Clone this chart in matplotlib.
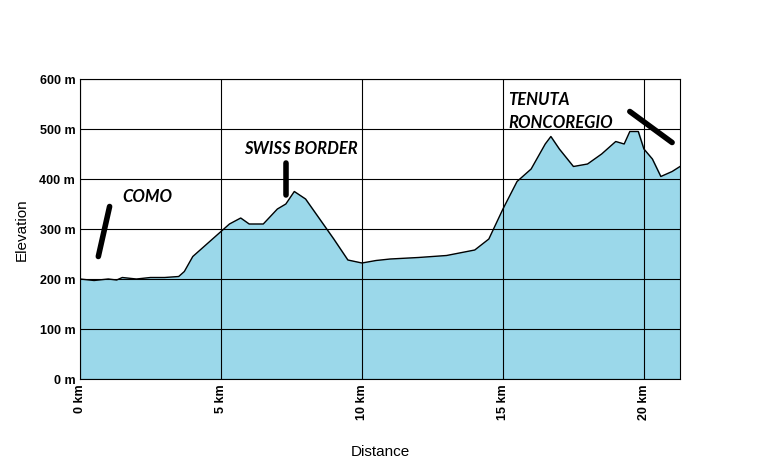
import matplotlib.pyplot as plt

km = [0, 0.5, 1, 1.3, 1.5, 2, 2.5, 3, 3.5, 3.7, 4, 4.5, 5, 5.3, 5.7, 6, 6.5, 7, 7.3, 7.6,
      8, 8.5, 9, 9.5, 10, 10.5, 11, 12, 13, 14, 14.5, 15, 15.5, 16, 16.5, 16.7, 17, 17.5,
      18, 18.5, 19, 19.3, 19.5, 19.8, 20, 20.3, 20.6, 21, 21.28]
elev = [200, 197, 200, 198, 203, 200, 203, 203, 205, 215, 245, 270, 295, 310, 322, 310, 310, 340, 350, 375,
        360, 320, 280, 238, 232, 237, 240, 243, 247, 258, 280, 340, 395, 420, 470, 485, 460, 425,
        430, 450, 475, 470, 495, 495, 460, 440, 405, 415, 425]

fig = plt.figure(figsize=(7.6, 4.6), dpi=100)
ax = fig.add_axes([80/760, 1-380/460, 600/760, 300/460])
ax.fill_between(km, elev, 0, color="#9bd8ea", zorder=1)
ax.plot(km, elev, color="black", lw=1, zorder=3)
ax.set_xlim(0, 21.28)
ax.set_ylim(0, 600)
ax.set_xticks([0, 5, 10, 15, 20])
ax.set_xticklabels([f"{v} km" for v in [0, 5, 10, 15, 20]], rotation=90,
                   fontweight="bold", fontsize=9, family="Liberation Sans")
ax.set_yticks(range(0, 601, 100))
ax.set_yticklabels([f"{v} m" for v in range(0, 601, 100)], fontweight="bold",
                   fontsize=9, family="Liberation Sans")
ax.tick_params(length=0)
ax.grid(True, color="black", lw=0.8, zorder=2)
ax.set_axisbelow(False)
for s in ax.spines.values():
    s.set_linewidth(0.8)
ax.set_xlabel("Distance", fontsize=11, labelpad=18, family="Liberation Sans")
ax.set_ylabel("Elevation", fontsize=11, labelpad=8, family="Liberation Sans")

tkw = dict(fontsize=12, fontweight="bold", style="italic", family="Lato", zorder=5)
ax.text(1.5, 355, "COMO", **tkw)
ax.plot([0.65, 1.05], [245, 345], color="black", lw=4, solid_capstyle="round", zorder=5)
ax.text(5.8, 453, "SWISS BORDER", **tkw)
ax.plot([7.3, 7.3], [368, 432], color="black", lw=4, solid_capstyle="round", zorder=5)
ax.text(15.2, 550, "TENUTA", **tkw)
ax.text(15.2, 505, "RONCOREGIO", **tkw)
ax.plot([19.5, 21.0], [535, 473], color="black", lw=4, solid_capstyle="round", zorder=5)

fig.savefig("out.png", dpi=100)
